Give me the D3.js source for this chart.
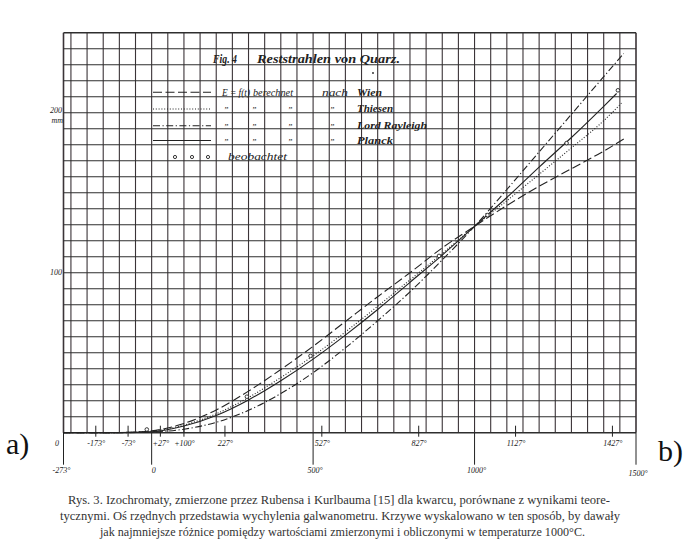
<!DOCTYPE html>
<html><head><meta charset="utf-8">
<script src="https://cdn.jsdelivr.net/npm/d3@7"></script>
<style>body{margin:0;background:#fff}svg{display:block}</style>
</head><body>
<svg id="c" width="688" height="542"></svg>
<script>
// ---------- data ----------
const temps = [-273,-200,-100,0,100,200,300,400,500,600,700,800,900,1000,1100,1200,1300,1400];
const wienT = temps.concat([1466]);
const wienV = [0,0,0.1,1.2,5.8,14.2,26,39.5,54,69.5,85,100,115.5,129,142,154,165,176,184];
const thiesenT = temps.concat([1455]);
const thiesenV = [0,0,0.1,0.9,4.8,11.8,22,34.5,48,63,79,95.5,112,129,145,161.5,178,195,206];
const rayleighT = temps.concat([1462]);
const rayleighV = [0,0,0.02,0.4,2.2,6.5,14,24.5,37.5,53,70,88,108,129,152,175.5,199,222.5,237];
const planckT = temps.concat([1440]);
const planckV = [0,0,0.05,0.6,4.2,10.8,20.5,32.5,46,61,77,94,111,129,147,166,184.5,204,212];
const obsT = [-15,295,492,890,1040,1285,1444];
const obsV = [2,22.5,48,110.5,136,181,214];

const kelvinTicks = [-273,-173,-73,27,100,227,527,827,1127,1427];
const kelvinLabels = ["0","-173°","-73°","+27°","+100°","227°","527°","827°","1127°","1427°"];
const celsiusTicks = [-273,0,500,1000,1500];
const celsiusLabels = ["-273°","0","500°","1000°","1500°"];
const yLabelVals = [100,200];
const yLabels = ["100","200"];

const legendNames = ["Wien","Thiesen","Lord Rayleigh","Planck"];
const captionLines = [
 "Rys. 3. Izochromaty, zmierzone przez Rubensa i Kurlbauma [15] dla kwarcu, porównane z wynikami teore-",
 "tycznymi. Oś rzędnych przedstawia wychylenia galwanometru. Krzywe wyskalowano w ten sposób, by dawały",
 "jak najmniejsze różnice pomiędzy wartościami zmierzonymi i obliczonymi w temperaturze 1000°C."
];

// ---------- drawing ----------
const svg = d3.select('#c');
svg.append('rect').attr('width',688).attr('height',542).attr('fill','#fff');
const x = d3.scaleLinear().domain([-273,1500]).range([63.5,636]);
const y = d3.scaleLinear().domain([0,250]).range([432.7,32.7]);
const ink = '#222';
const hand = "'Liberation Serif', 'DejaVu Serif', serif";

// grid
const g = svg.append('g');
const vGrid = [-273].concat(d3.range(-250,1501,50));
g.selectAll('line.v').data(vGrid).join('line')
  .attr('x1',d=>x(d)).attr('x2',d=>x(d)).attr('y1',y(0)).attr('y2',y(250))
  .attr('stroke','#3b3438').attr('stroke-width',d=>(d===-273||d===1500)?1.6:1.1);
const hGrid = d3.range(0,251,10);
g.selectAll('line.h').data(hGrid).join('line')
  .attr('x1',x(-273)).attr('x2',x(1500)).attr('y1',d=>y(d)).attr('y2',d=>y(d))
  .attr('stroke','#2e2e2e').attr('stroke-width',d=>(d===0||d===250)?1.6:1.1);

// long celsius ticks below axis
g.selectAll('line.c').data(celsiusTicks).join('line')
  .attr('x1',d=>x(d)).attr('x2',d=>x(d)).attr('y1',y(0)).attr('y2',y(0)+32)
  .attr('stroke',ink).attr('stroke-width',1);
// kelvin short ticks
g.selectAll('line.k').data(kelvinTicks.slice(1)).join('line')
  .attr('x1',d=>x(d)).attr('x2',d=>x(d)).attr('y1',y(0)-7).attr('y2',y(0)+4)
  .attr('stroke',ink).attr('stroke-width',1);

// labels
const lab = svg.append('g').attr('font-family',hand).attr('font-style','italic')
  .attr('font-size',8).attr('fill',ink);
lab.selectAll('text.k').data(kelvinTicks).join('text')
  .attr('x',(d,i)=>i===0?x(d)-6.5:x(d)+0.5).attr('y',y(0)+13.5)
  .attr('text-anchor','middle').text((d,i)=>kelvinLabels[i]);
lab.selectAll('text.c').data(celsiusTicks).join('text')
  .attr('x',(d,i)=>x(d)+(i===0?-2:2)).attr('y',(d,i)=>y(0)+40+(i===4?3:0))
  .attr('text-anchor','middle').text((d,i)=>celsiusLabels[i]);
lab.selectAll('text.y').data(yLabelVals).join('text')
  .attr('x',62).attr('y',d=>y(d)+(d===100?2:0.5)).attr('text-anchor','end')
  .text((d,i)=>yLabels[i]);
lab.append('text').attr('x',63).attr('y',y(200)+10).attr('text-anchor','end').text('mm');

// title
const tt = svg.append('g').attr('font-family',hand).attr('font-style','italic')
  .attr('fill',ink).attr('font-size',11.5).attr('font-weight','bold');
tt.append('text').attr('x',213).attr('y',63).attr('textLength',24).attr('lengthAdjust','spacingAndGlyphs').text('Fig. 4');
tt.append('text').attr('x',257).attr('y',63).attr('textLength',143).attr('lengthAdjust','spacingAndGlyphs').text('Reststrahlen von Quarz.');
svg.append('circle').attr('cx',373).attr('cy',73).attr('r',0.9).attr('fill',ink);

// legend
const styles = {Wien:'9,3.5', Thiesen:'1,1.8', 'Lord Rayleigh':'7,2.5,1.2,2.5', Planck:null};
const rowsY = [92.3,109,125.7,140.5];
const lg = svg.append('g').attr('font-family',hand).attr('font-style','italic').attr('fill',ink);
legendNames.forEach((n,i)=>{
  lg.append('line').attr('x1',153).attr('x2',211).attr('y1',rowsY[i]).attr('y2',rowsY[i])
    .attr('stroke',ink).attr('stroke-width',1.1).attr('stroke-dasharray',styles[n]);
  const by = rowsY[i]+3.2;
  if(i===0){
    [['E = f(t)',222,28],['berechnet',253,40],['nach',322,26]].forEach(([s,xx,w])=>
      lg.append('text').attr('x',xx).attr('y',by).attr('font-size',10).attr('textLength',w)
        .attr('lengthAdjust','spacingAndGlyphs').text(s));
  } else {
    [226,254,290,332].forEach(xx=>lg.append('text').attr('x',xx).attr('y',by+1).attr('font-size',9)
      .attr('text-anchor','middle').text('\u201D'));
  }
  const w = {Wien:25,Thiesen:36,'Lord Rayleigh':70,Planck:36}[n];
  lg.append('text').attr('x',357).attr('y',by).attr('font-size',10.5).attr('font-weight','bold')
    .attr('textLength',w).attr('lengthAdjust','spacingAndGlyphs').text(n);
});
[175,192,208].forEach(xx=>lg.append('circle').attr('cx',xx).attr('cy',157).attr('r',1.6)
  .attr('fill','none').attr('stroke',ink).attr('stroke-width',0.9));
lg.append('text').attr('x',228).attr('y',160).attr('font-size',10.5).attr('textLength',59)
  .attr('lengthAdjust','spacingAndGlyphs').text('beobachtet');

// curves
const line = d3.line().x(d=>x(d[0])).y(d=>y(d[1])).curve(d3.curveMonotoneX);
const series = [
  [wienT,wienV,'Wien'],[thiesenT,thiesenV,'Thiesen'],
  [rayleighT,rayleighV,'Lord Rayleigh'],[planckT,planckV,'Planck']];
series.forEach(([T,V,n])=>{
  svg.append('path').datum(T.map((t,i)=>[t,V[i]])).attr('d',line)
    .attr('fill','none').attr('stroke',ink).attr('stroke-width',1.1)
    .attr('stroke-dasharray',styles[n]);
});
svg.selectAll('circle.obs').data(obsT).join('circle')
  .attr('cx',d=>x(d)).attr('cy',(d,i)=>y(obsV[i])).attr('r',1.8)
  .attr('fill','#fff').attr('stroke',ink).attr('stroke-width',0.9);

// panel letters
svg.append('text').attr('x',6).attr('y',454).attr('font-family',"'Liberation Serif', serif")
  .attr('font-size',30).attr('fill','#111').text('a)');
svg.append('text').attr('x',658).attr('y',461).attr('font-family',"'Liberation Serif', serif")
  .attr('font-size',30).attr('fill','#111').text('b)');

// caption
const cap = [[339,504,542],[340,520,560],[342.5,536,485]];
svg.selectAll('text.cap').data(captionLines).join('text')
  .attr('x',(d,i)=>cap[i][0]-cap[i][2]/2).attr('y',(d,i)=>cap[i][1])
  .attr('textLength',(d,i)=>cap[i][2]).attr('lengthAdjust','spacingAndGlyphs')
  .attr('font-family',"'Liberation Serif', serif").attr('font-size',11.5).attr('fill','#333')
  .text(d=>d);
</script>
</body></html>
